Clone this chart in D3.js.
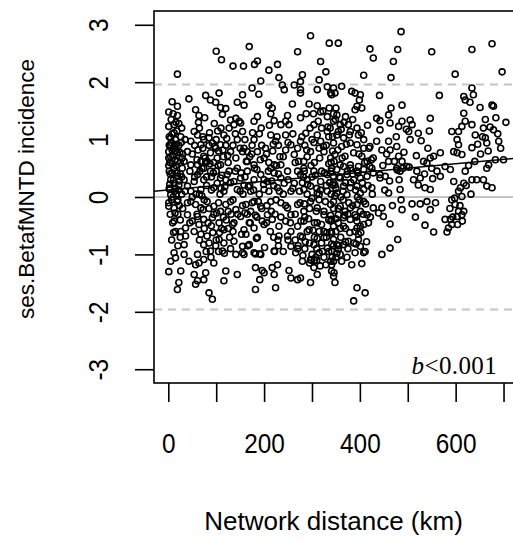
<!DOCTYPE html>
<html>
<head>
<meta charset="utf-8">
<script src="https://cdn.jsdelivr.net/npm/d3@7/dist/d3.min.js"></script>
<style>
  html, body { margin: 0; padding: 0; background: #fff; }
  svg { display: block; }
</style>
</head>
<body>
<div id="chart"></div>
<script>
// ses.BetafMNTD incidence vs network distance
// each entry: [network distance in km, ses value]

var sparseHigh = [
  [19,2.14],[100,2.54],[111,2.39],[135,2.28],[157,2.28],[169,2.62],[180,2.31],[186,2.37],[210,2.21],[228,2.31],
  [270,2.53],[297,2.81],[336,2.68],[318,2.36],[329,2.18],[193,2.02],[175,1.90],[189,1.79],[231,2.08],[238,1.95],
  [242,1.87],[263,1.95],[276,2.01],[280,2.13],[276,1.87],[276,1.81],[315,2.04],[311,1.87],[332,1.92],[339,1.81],
  [486,2.88],[355,2.68],[421,2.58],[428,2.42],[479,2.57],[470,2.36],[550,2.53],[634,2.57],[676,2.67],[408,2.12],
  [465,2.08],[599,2.14],[697,2.18]
];

var upperBand = [
  [8,1.66],[19,1.58],[1,1.48],[19,1.42],[43,1.71],[57,1.52],[64,1.42],[78,1.77],[88,1.69],[99,1.65],
  [106,1.81],[109,1.56],[120,1.54],[113,1.44],[144,1.65],[155,1.78],[158,1.60],[179,1.32],[186,1.40],[210,1.60],
  [217,1.55],[214,1.45],[259,1.62],[294,1.62],[311,1.59],[318,1.48],[332,1.40],[221,1.33],[249,1.42],[245,1.32],
  [130,1.34],[141,1.37],[151,1.29],
  [1,1.23],[12,1.26],[5,1.03],[15,1.00],[1,0.79],[8,0.82],[19,0.77],[1,0.68],[33,0.62],[40,0.79],
  [47,0.97],[54,1.14],[61,1.08],[68,0.91],[74,1.00],[85,1.03],[92,0.94],[99,0.85],[88,0.77],[102,0.68],
  [109,0.56],[81,0.62],[61,0.56],[116,1.08],[127,1.20],[137,1.26],[148,1.32],[155,1.14],[144,1.00],[130,0.79],
  [141,0.68],[155,0.79],[165,0.62],[179,1.00],[186,0.79],[200,0.68],[214,1.08],[224,0.97],[235,1.26],[245,1.08],
  [252,1.26],[256,0.91],[263,0.74],[276,0.97],[283,0.62],[297,0.79],[304,1.26],[311,1.08],[318,0.97],[325,0.79],
  [332,1.14],[339,0.68],[287,1.11],[245,0.82],[235,0.56],[221,0.56],[179,0.56],[165,0.79],[109,0.91],[74,0.71],
  [47,0.56],[29,0.50],[12,0.50],
  [5,0.9],[10,0.85],[3,0.6],[14,0.65],[22,0.9],[25,0.6],[30,0.75],[8,1.1],[18,1.15],[28,1.2],
  [35,1.0],[50,0.75],[55,0.9],[60,0.65],[65,1.2],[72,0.85],[78,0.6],[85,0.9],[95,0.6],[100,1.0],
  [105,0.8],[115,0.7],[120,0.9],[125,0.6],[135,0.9],[140,1.1],[150,0.85],[160,1.0],[170,0.7],[175,0.9],
  [190,1.1],[195,0.9],[205,0.75],[210,0.6],[218,0.8],[230,0.9],[240,0.7],[250,0.95],[260,1.1],[265,0.6],
  [270,0.85],[285,0.9],[290,0.7],[300,1.0],[305,0.6],[315,0.85],[320,1.2],[330,0.9],[335,1.05],[340,0.6],
  [343,0.8],
  [345,1.90],[362,1.93],[348,1.81],[341,1.78],[383,1.84],[390,1.81],[401,1.78],[399,1.69],[394,1.58],[390,1.52],
  [404,1.55],[441,1.77],[488,1.60],[566,1.77],[634,1.90],[637,1.78],[617,1.75],[620,1.69],[630,1.65],[651,1.56],
  [676,1.60],[679,1.58],[352,1.43],[435,1.37],[442,1.33],[460,1.43],[463,1.29],[488,1.32],[481,1.23],[505,1.34],
  [509,1.26],[502,1.14],[505,1.00],[442,1.17],[522,1.11],[547,1.37],[545,1.15],[592,1.14],[606,1.14],[613,1.23],
  [620,1.32],[617,1.46],[634,1.26],[641,1.08],[658,1.20],[679,1.17],[662,1.03],[665,0.94],[690,0.97],[603,1.00],
  [606,0.91],[596,0.79],[603,0.77],[613,0.74],[634,0.86],[700,0.65],[683,0.65],[568,0.77],[547,0.68],[533,0.62],
  [540,0.59],[554,0.71],[477,0.88],[481,0.71],[488,0.62],[460,0.97],[463,0.82],[446,0.82],[435,0.97],[421,0.88],
  [460,0.62],[428,0.68],
  [345,1.32],[359,1.26],[376,1.26],[380,1.14],[394,1.20],[397,1.08],[352,1.08],[366,1.03],[345,0.94],[362,0.88],
  [380,0.94],[394,0.91],[408,0.85],[348,0.74],[369,0.71],[387,0.77],[404,0.71],[415,0.62],[359,0.56],[380,0.56],
  [397,0.53],[341,0.50],[425,0.50],[408,1.00],[355,1.14],[338,1.20],[345,1.45],[370,1.40],[385,1.35],[350,1.55],
  [478,0.47],[484,0.45],[490,0.50]
];

var middleBand = [
  [2,0.45],[8,0.42],[19,0.36],[33,0.30],[12,0.24],[22,0.21],[40,0.19],[61,0.39],[74,0.30],[88,0.45],
  [109,0.33],[123,0.39],[137,0.27],[151,0.33],[165,0.45],[179,0.30],[193,0.39],[207,0.27],[221,0.42],[235,0.33],
  [249,0.45],[263,0.24],[276,0.39],[290,0.30],[304,0.45],[318,0.27],[332,0.39],[343,0.21],[47,0.10],[68,0.13],
  [95,0.16],[116,0.10],[144,0.13],[172,0.10],[200,0.13],[228,0.16],[256,0.10],[283,0.13],[311,0.07],[332,0.10],
  [3,0.13],[5,0.04],[74,0.50],[144,0.50],[214,0.50],[283,0.50],[54,0.27],[102,0.24],[158,0.21],[242,0.24],
  [297,0.19],
  [5,0.3],[10,0.0],[15,0.15],[20,-0.05],[25,0.4],[28,0.05],[30,-0.2],[35,0.1],[40,-0.1],[45,0.45],
  [50,0.0],[55,0.35],[60,-0.3],[65,0.05],[70,0.5],[75,-0.05],[80,0.2],[85,-0.2],[90,0.35],[95,-0.3],
  [100,0.45],[105,-0.1],[110,0.15],[115,-0.35],[120,0.3],[125,-0.25],[130,0.25],[135,-0.05],[140,0.45],[145,-0.3],
  [150,0.1],[155,-0.15],[160,0.35],[165,-0.3],[170,0.2],[175,-0.1],[180,0.5],[185,-0.35],[190,0.05],[195,-0.2],
  [200,0.3],[205,-0.45],[210,0.1],[215,-0.25],[220,0.2],[225,-0.05],[230,0.4],[235,-0.35],[240,0.05],[245,-0.15],
  [250,0.3],[255,-0.45],[260,0.15],[265,-0.3],[270,0.45],[275,-0.1],[280,0.25],[285,-0.35],[290,0.05],[295,-0.2],
  [300,0.35],[305,-0.45],[310,0.15],[315,-0.05],[320,0.45],[325,-0.25],[330,0.2],[335,-0.4],[340,0.05],[345,-0.2],
  [341,0.50],[352,0.48],[366,0.53],[380,0.50],[394,0.45],[408,0.48],[421,0.53],[345,0.36],[359,0.33],[373,0.39],
  [387,0.30],[401,0.33],[415,0.36],[428,0.42],[348,0.21],[366,0.19],[380,0.16],[394,0.19],[408,0.13],[425,0.16],
  [352,0.07],[373,0.04],[401,0.07],[442,0.33],[453,0.36],[460,0.07],[484,0.13],[477,0.50],[498,0.53],[519,0.45],
  [526,0.33],[536,0.16],[547,0.13],[522,0.21],[568,0.36],[550,0.50],[561,0.45],[578,0.53],[589,0.48],[620,0.45],
  [617,0.24],[634,0.30],[644,0.30],[658,0.30],[665,0.19],[676,0.16],[665,0.50],[669,0.56],[610,0.16],[606,0.10],
  [613,0.01],[596,0.27],[442,0.39],
  [350,0.15],[360,0.0],[370,0.25],[385,0.40],[395,0.0],[345,0.25],[340,0.45]
];

var lowerBand = [
  [1,-0.10],[1,-0.16],[19,-0.08],[12,-0.19],[47,-0.08],[57,-0.13],[68,-0.19],[81,-0.08],[95,-0.16],[109,-0.25],
  [120,-0.13],[130,-0.08],[141,-0.22],[151,-0.34],[162,-0.13],[172,-0.25],[179,-0.08],[193,-0.16],[207,-0.31],[214,-0.08],
  [235,-0.10],[249,-0.19],[256,-0.31],[270,-0.13],[283,-0.25],[297,-0.08],[311,-0.19],[325,-0.31],[339,-0.13],[40,-0.31],
  [50,-0.42],[61,-0.34],[74,-0.39],[92,-0.36],[106,-0.45],[116,-0.57],[137,-0.45],[134,-0.48],[158,-0.57],[169,-0.45],
  [179,-0.54],[200,-0.48],[217,-0.39],[231,-0.51],[245,-0.42],[256,-0.60],[270,-0.51],[283,-0.42],[294,-0.57],[311,-0.45],
  [325,-0.60],[339,-0.42],[36,-0.54],[54,-0.60],[12,-0.42],[26,-0.60],
  [36,-0.68],[33,-0.83],[68,-0.65],[74,-0.83],[81,-0.68],[106,-0.74],[116,-0.80],[113,-0.94],[137,-0.77],[155,-0.86],
  [155,-0.97],[162,-0.65],[169,-0.83],[186,-0.70],[193,-1.00],[182,-0.99],[221,-0.94],[231,-0.68],[249,-0.68],[256,-0.86],
  [266,-0.97],[276,-0.68],[280,-1.12],[297,-1.09],[304,-0.83],[315,-0.97],[325,-0.71],[332,-0.89],[339,-1.12],[12,-0.97],
  [33,-1.00],[15,-1.06],[5,-1.12],[61,-1.00],[57,-1.18],[64,-1.15],[74,-1.09],[88,-0.94],[95,-1.15],[141,-1.00],
  [158,-1.00],[179,-0.97],[191,-0.99],[43,-1.12],
  [1,-1.30],[26,-1.29],[54,-1.35],[61,-1.46],[78,-1.32],[57,-1.52],[22,-1.49],[19,-1.61],[74,-1.44],[120,-1.29],
  [116,-1.46],[144,-1.35],[182,-1.23],[196,-1.28],[200,-1.32],[191,-1.44],[217,-1.23],[228,-1.18],[221,-1.35],[252,-1.28],
  [256,-1.41],[270,-1.44],[276,-1.41],[297,-1.49],[304,-1.23],[311,-1.35],[182,-1.61],[224,-1.58],[85,-1.67],[92,-1.78],
  [346,-1.32],[298,-1.10],[305,-1.10],[310,-1.10],
  [280,-0.7],[285,-0.9],[290,-0.6],[295,-0.8],[300,-1.0],[305,-0.7],[310,-0.9],[315,-0.6],[320,-0.8],[325,-1.05],
  [330,-0.7],[335,-0.95],[340,-0.6],[345,-0.85],[265,-0.75],[270,-0.9],[250,-0.75],[240,-0.95],[230,-0.85],[220,-0.7],
  [125,-0.55],[130,-0.9],[135,-0.6],[100,-0.75],[105,-0.95],[85,-0.8],[90,-0.5],[75,-0.55],[65,-0.75],[45,-0.45],
  [20,-0.3],[25,-0.7],[15,-0.6],
  [345,-0.08],[359,-0.16],[369,-0.25],[380,-0.19],[394,-0.13],[408,-0.08],[355,-0.31],[366,-0.36],[380,-0.39],[390,-0.31],
  [401,-0.25],[415,-0.31],[428,-0.19],[439,-0.28],[449,-0.34],[446,-0.19],[418,-0.45],[463,-0.47],[488,-0.22],[509,-0.12],
  [526,-0.12],[540,-0.08],[547,-0.22],[516,-0.35],[536,-0.49],[554,-0.61],[592,-0.05],[599,-0.13],[606,-0.25],[613,-0.31],
  [603,-0.34],[589,-0.39],[578,-0.39],[592,-0.48],[585,-0.54],[582,-0.61],[617,-0.25],[345,-0.51],[355,-0.45],[341,-0.39],
  [366,-0.51],[394,-0.42],[401,-0.51],[408,-0.48],
  [341,-0.63],[345,-0.74],[352,-0.83],[341,-0.94],[355,-0.91],[366,-0.83],[376,-0.77],[387,-0.80],[397,-0.74],[401,-0.86],
  [394,-0.54],[397,-0.65],[408,-0.97],[390,-0.97],[359,-1.00],[345,-1.12],[383,-1.18],[404,-1.16],[446,-1.00],[463,-0.89],
  [479,-0.74],[341,-1.18],
  [341,-1.29],[345,-1.38],[348,-1.49],[394,-1.58],[411,-1.67],[387,-1.81],
  [350,-0.6],[360,-0.7],[370,-0.55],[355,-0.2],[365,-0.05],[375,-0.3],[385,-0.15],[375,-0.9],[350,-1.05],[390,-0.6]
];

// the darkest, most crowded parts of the cloud
var crowded = [
  [2,1.05],[6,0.95],[9,0.72],[13,0.88],[16,0.55],[4,0.4],[11,0.3],[17,0.05],[7,-0.05],[21,0.12],
  [24,0.78],[27,0.95],[3,0.22],[14,-0.28],[9,-0.45],[19,0.62],[23,0.28],[6,1.35],[12,1.12],[16,1.3],
  [26,1.05],[2,0.9],[8,0.58],[18,0.42],[28,0.35],[4,-0.3],[11,-0.62],[20,-0.85],[7,-0.75],[25,-0.4],
  [2,0.15],[15,0.8],[10,1.45],[22,1.28],[5,0.7],[13,0.1],[29,0.68],[1,0.55],[17,0.92],[23,-0.15],
  [62,0.82],[66,0.45],[70,0.02],[73,-0.22],[77,0.68],[80,0.35],[83,-0.45],[87,0.58],[90,0.12],[93,-0.62],
  [97,0.88],[101,-0.28],[104,0.55],[108,0.05],[111,-0.55],[114,0.82],[118,0.18],[121,-0.4],[124,0.72],[128,-0.7],
  [64,-0.48],[68,0.62],[72,1.05],[79,-0.95],[86,1.12],[94,0.42],[99,-0.85],[103,1.15],[107,-0.62],[112,0.38],
  [117,-0.98],[122,1.02],[127,0.45],[131,-0.3],[58,0.05],[63,1.3],[76,1.38],[89,-1.05],[96,1.28],[110,1.2],
  [152,0.42],[156,0.05],[160,-0.28],[163,0.62],[167,0.18],[171,-0.45],[174,0.75],[178,0.12],[182,-0.32],[185,0.48],
  [188,-0.08],[192,0.65],[196,-0.42],[199,0.22],[203,0.85],[206,-0.15],[209,0.45],[213,-0.6],[216,0.28],[219,0.92],
  [223,-0.3],[226,0.55],[229,-0.75],[232,0.1],[153,-0.65],[158,0.85],[166,-0.85],[176,1.12],[184,-0.72],[194,1.2],
  [201,-0.88],[211,1.25],[222,-0.95],[227,1.05],[233,0.7],
  [272,0.62],[274,0.1],[277,-0.42],[279,1.05],[282,0.35],[284,-0.12],[286,-0.78],[289,0.82],[291,0.22],[293,-0.38],
  [296,1.2],[298,0.55],[300,-0.02],[302,-0.58],[304,0.95],[307,0.38],[309,-0.25],[311,-0.72],[313,1.32],[316,0.68],
  [318,0.12],[320,-0.48],[322,-0.95],[324,0.88],[326,0.42],[328,-0.08],[331,-0.62],[333,1.22],[335,0.58],[337,0.25],
  [339,-0.32],[341,-0.82],[343,1.05],[346,0.62],[348,0.02],[350,-0.38],[352,-0.98],[354,0.82],[357,0.35],[359,-0.55],
  [361,1.18],[363,0.68],[365,0.1],[368,-0.32],[370,-0.78],[372,0.92],[374,0.45],[377,-0.1],[379,-0.62],[381,0.25],
  [271,-0.85],[276,1.38],[281,-1.02],[288,1.45],[295,-1.15],[303,1.45],[308,-1.05],[317,-1.2],[323,1.5],[329,-1.18],
  [336,1.55],[342,-1.05],[349,1.35],[356,-0.85],[362,-1.12],[367,1.3],[373,-1.05],[378,1.08],[284,0.45],[315,0.05],
  [391,0.12],[393,-0.35],[396,0.42],[399,-0.05],[402,-0.62],[405,0.25],[407,-0.3],[410,0.6],[412,-0.12],[414,-0.78],
  [417,0.2],[419,0.85],[422,-0.35],[426,0.05],[392,-0.82],[398,0.75],[403,1.12],[411,-0.95],[416,1.25],[424,0.65],
  [448,0.55],[452,0.12],[456,0.75],[462,0.28],[468,-0.15],[472,0.62],[476,1.05],[482,0.3],[486,-0.05],[492,0.78],
  [497,1.18],[503,0.52],[512,0.3],[518,0.72],[528,0.98],[535,0.4],[542,0.85],[552,0.32],[558,-0.1],[465,1.55],
  [588,-0.2],[594,-0.35],[598,-0.02],[604,-0.48],[609,-0.15],[614,-0.42],[622,0.2],[627,0.55],[632,0.05],[640,0.62],
  [646,0.92],[652,0.75],[656,1.05],[662,1.35],[668,0.8],[672,1.22],[684,1.38],[688,1.1],[694,0.85],[705,1.3]
];

// fitted line: intercept, slope (per km)
var fitLine = [0.122, 0.00076];
var refLines = [-1.96, 1.96];

var xTicks = [0, 100, 200, 300, 400, 500, 600, 700];
var xTickLabels = ["0", "", "200", "", "400", "", "600", ""];
var yTicks = [-3, -2, -1, 0, 1, 2, 3];

var chartW = 513, chartH = 543;
var boxLeft = 154, boxRight = 527, boxTop = 11, boxBottom = 383;

var svg = d3.select("#chart")
  .append("svg")
  .attr("width", chartW)
  .attr("height", chartH);

var x = d3.scaleLinear().domain([-29.9, 749]).range([boxLeft, boxRight]);
var y = d3.scaleLinear().domain([-3.24, 3.24]).range([boxBottom, boxTop]);

svg.append("clipPath")
  .attr("id", "plotClip")
  .append("rect")
  .attr("x", boxLeft)
  .attr("y", boxTop)
  .attr("width", boxRight - boxLeft)
  .attr("height", boxBottom - boxTop);

var plot = svg.append("g").attr("clip-path", "url(#plotClip)");

// grey reference lines
plot.selectAll(".dash")
  .data(refLines)
  .enter()
  .append("line")
  .attr("x1", boxLeft)
  .attr("x2", boxRight)
  .attr("y1", function(d) { return y(d); })
  .attr("y2", function(d) { return y(d); })
  .style("stroke", "#c4c4c4")
  .style("stroke-width", 1.8)
  .style("stroke-dasharray", "8,6");

plot.append("line")
  .attr("x1", boxLeft)
  .attr("x2", boxRight)
  .attr("y1", y(0))
  .attr("y2", y(0))
  .style("stroke", "#c4c4c4")
  .style("stroke-width", 1.8);

var allPoints = sparseHigh.concat(upperBand, middleBand, lowerBand, crowded);

plot.selectAll(".pt")
  .data(allPoints)
  .enter()
  .append("circle")
  .attr("cx", function(d) { return x(d[0]); })
  .attr("cy", function(d) { return y(d[1]); })
  .attr("r", 3.0)
  .style("fill", "none")
  .style("stroke", "#000")
  .style("stroke-width", 1.6);

// regression line across the whole plot
var xd = x.domain();
plot.append("line")
  .attr("x1", x(xd[0]))
  .attr("x2", x(xd[1]))
  .attr("y1", y(fitLine[0] + fitLine[1] * xd[0]))
  .attr("y2", y(fitLine[0] + fitLine[1] * xd[1]))
  .style("stroke", "#000")
  .style("stroke-width", 1.5);

// box
svg.append("rect")
  .attr("x", boxLeft)
  .attr("y", boxTop)
  .attr("width", boxRight - boxLeft)
  .attr("height", boxBottom - boxTop)
  .style("fill", "none")
  .style("stroke", "#000")
  .style("stroke-width", 1.6);

var font = "'Liberation Sans', Arial, sans-serif";

// y axis
var yAxis = svg.append("g")
  .attr("transform", "translate(" + boxLeft + ",0)")
  .call(d3.axisLeft(y).tickValues(yTicks).tickSize(19).tickFormat(d3.format("d")));
yAxis.select(".domain").remove();
yAxis.selectAll(".tick line").style("stroke", "#000").style("stroke-width", 1.6);
yAxis.selectAll(".tick text")
  .attr("x", null)
  .attr("dy", null)
  .attr("transform", "translate(-46,0) rotate(-90) scale(0.87,1)")
  .style("text-anchor", "middle")
  .style("font-family", font)
  .style("font-size", "28px")
  .style("fill", "#000")
  .text(function(d) { return d < 0 ? "-" + Math.abs(d) : d; });

// x axis
var xAxis = svg.append("g")
  .attr("transform", "translate(0," + boxBottom + ")")
  .call(d3.axisBottom(x).tickValues(xTicks).tickSize(19)
    .tickFormat(function(d, i) { return xTickLabels[i]; }));
xAxis.select(".domain").remove();
xAxis.selectAll(".tick line").style("stroke", "#000").style("stroke-width", 1.6);
xAxis.selectAll(".tick text")
  .attr("y", null)
  .attr("dy", null)
  .attr("transform", "translate(0,70) scale(0.87,1)")
  .style("text-anchor", "middle")
  .style("font-family", font)
  .style("font-size", "28px")
  .style("fill", "#000");

// axis titles
svg.append("text")
  .attr("x", 333.5)
  .attr("y", 530)
  .style("font-family", font)
  .style("font-size", "26px")
  .style("text-anchor", "middle")
  .style("fill", "#000")
  .text("Network distance (km)");

svg.append("text")
  .attr("transform", "translate(33.5,189) rotate(-90)")
  .style("font-family", font)
  .style("font-size", "22.5px")
  .style("text-anchor", "middle")
  .style("fill", "#000")
  .text("ses.BetafMNTD incidence");

// slope note
var note = svg.append("text")
  .attr("x", 411.5)
  .attr("y", 374)
  .style("font-family", "'Liberation Serif', 'Times New Roman', serif")
  .style("font-size", "25px")
  .style("letter-spacing", "0.4px")
  .style("fill", "#000");
note.append("tspan").style("font-style", "italic").text("b");
note.append("tspan").text("<0.001");
</script>
</body>
</html>
